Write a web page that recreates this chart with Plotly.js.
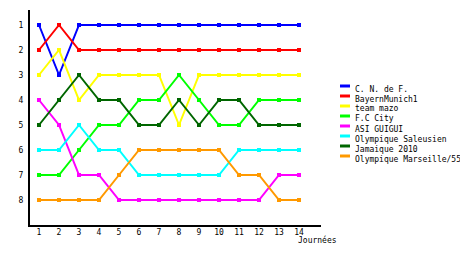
<!DOCTYPE html>
<html>
<head>
<meta charset="utf-8">
<script src="https://cdn.plot.ly/plotly-3.0.1.min.js"></script>
<style>html,body{margin:0;padding:0;background:#fff;}#chart{width:460px;height:255px;}</style>
</head>
<body>
<div id="chart"></div>
<script>
const days = [1,2,3,4,5,6,7,8,9,10,11,12,13,14];
const teamNames = ["C. N. de F.","BayernMunich1","team mazo","F.C City","ASI GUIGUI","Olympique Saleusien","Jamaique 2010","Olympique Marseille/55"];
const teamColors = ["#0000ff","#ff0000","#ffff00","#00ff00","#ff00ff","#00ffff","#006600","#ff9900"];
const cnf      = [1,3,1,1,1,1,1,1,1,1,1,1,1,1];
const bayern   = [2,1,2,2,2,2,2,2,2,2,2,2,2,2];
const mazo     = [3,2,4,3,3,3,3,5,3,3,3,3,3,3];
const fcCity   = [7,7,6,5,5,4,4,3,4,5,5,4,4,4];
const guigui   = [4,5,7,7,8,8,8,8,8,8,8,8,7,7];
const saleusien= [6,6,5,6,6,7,7,7,7,7,6,6,6,6];
const jamaique = [5,4,3,4,4,5,5,4,5,4,4,5,5,5];
const marseille= [8,8,8,8,7,6,6,6,6,6,7,7,8,8];
const rankTicks = [1,2,3,4,5,6,7,8];
const series = [cnf,bayern,mazo,fcCity,guigui,saleusien,jamaique,marseille];

const font = {family:"DejaVu Sans Mono, monospace", size:8, color:"#000"};
const traces = series.map((s,i)=>({
  x: days, y: s, name: teamNames[i], type:"scatter", mode:"lines+markers",
  line:{color:teamColors[i], width:2, shape:"linear"},
  marker:{color:teamColors[i], size:4, symbol:"square"},
  showlegend:false
}));

// plot area in pixels
const L=30, R=321, T=10, B=225;
const px2x = p => (p-L)/(R-L);
const px2y = p => (B-p)/(B-T);
const shapes = [], annotations = [];
teamNames.forEach((n,i)=>{
  const ly = 86 + 10*i;
  shapes.push({type:"line", xref:"paper", yref:"paper", x0:px2x(340), x1:px2x(350), y0:px2y(ly), y1:px2y(ly), line:{color:teamColors[i], width:3}});
  annotations.push({xref:"paper", yref:"paper", x:px2x(353), y:px2y(ly+3), xanchor:"left", yanchor:"middle", text:n, showarrow:false, font:font});
});
annotations.push({xref:"paper", yref:"paper", x:px2x(296), y:px2y(240), xanchor:"left", yanchor:"middle", text:"Journées", showarrow:false, font:font});

const layout = {
  width:460, height:255,
  margin:{l:L, r:460-R, t:T, b:255-B},
  paper_bgcolor:"#fff", plot_bgcolor:"#fff",
  showlegend:false,
  font:font,
  xaxis:{range:[0.55,15.1], tickvals:days, ticktext:days.map(String), showgrid:false, zeroline:false,
         showline:true, linecolor:"#000", linewidth:2, ticks:"", ticklen:0, tickfont:font, ticklabelstandoff:-2, fixedrange:true},
  yaxis:{range:[9,0.4], tickvals:rankTicks, ticktext:rankTicks.map(String), showgrid:false, zeroline:false,
         showline:true, linecolor:"#000", linewidth:2, ticks:"", tickfont:font, ticklabelstandoff:3, fixedrange:true},
  shapes:shapes, annotations:annotations
};
Plotly.newPlot("chart", traces, layout, {staticPlot:true, displayModeBar:false});
</script>
</body>
</html>
